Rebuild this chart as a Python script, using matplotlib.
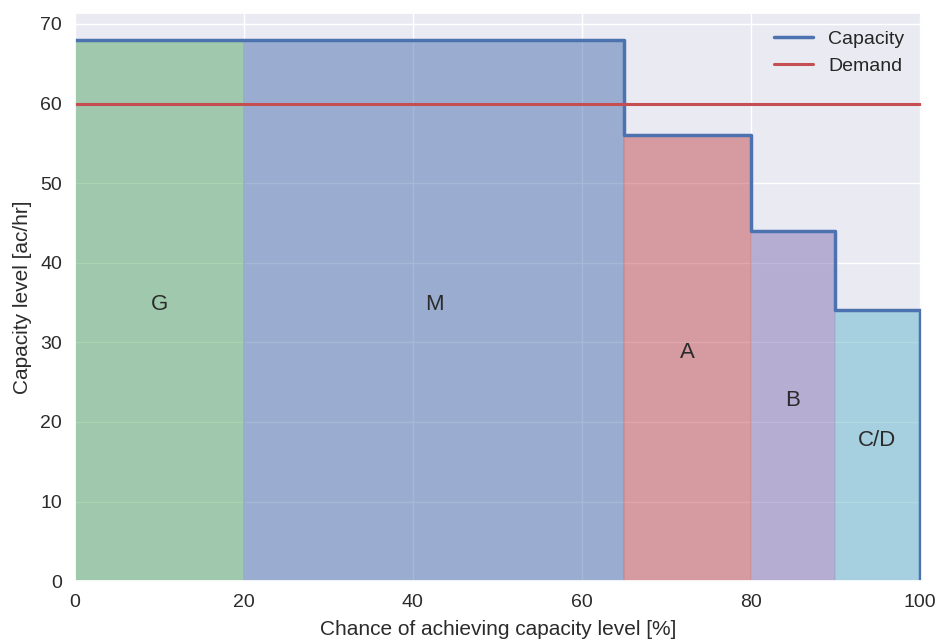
import matplotlib
matplotlib.use("Agg")
import matplotlib.pyplot as plt
import numpy as np
import seaborn as sns

sns.set_theme(style="darkgrid")
plt.rcParams['font.family'] = ['Liberation Sans', 'DejaVu Sans']

# Capacity bands: chance range [%] and capacity level [ac/hr]
band_labels = ["G", "M", "A", "B", "C/D"]
band_starts = [0, 20, 65, 80, 90]
band_ends = [20, 65, 80, 90, 100]
band_capacity = [68, 68, 56, 44, 34]
demand_level = 60

pal = sns.color_palette("deep")
band_colors = [pal[2], pal[0], pal[3], pal[4], pal[9]]

fig, ax = plt.subplots(figsize=(9.39, 6.4), dpi=100)
fig.subplots_adjust(left=0.08, right=0.982, top=0.98, bottom=0.092)

for lab, x0, x1, cap, col in zip(band_labels, band_starts, band_ends, band_capacity, band_colors):
    ax.fill_between([x0, x1], [cap, cap], 0, color=col, alpha=0.5, lw=0.3)
    ax.text((x0 + x1) / 2, cap / 2, lab, ha="center", fontsize=16, color="#2b2b2b")

# Step outline of capacity
xs = [band_starts[0]]
ys = [band_capacity[0]]
for x0, x1, cap in zip(band_starts, band_ends, band_capacity):
    xs += [x0, x1]
    ys += [cap, cap]
xs.append(band_ends[-1])
ys.append(0)
ax.plot(xs, ys, color=pal[0], lw=2.5, label="Capacity")
ax.plot([band_starts[0], band_ends[-1]], [demand_level, demand_level], color=pal[3], lw=2.2, label="Demand")

ax.set_xlim(0, 100.3)
ax.set_ylim(0, 71.4)
ax.set_xlabel("Chance of achieving capacity level [%]", fontsize=15, labelpad=6, color="#2b2b2b")
ax.set_ylabel("Capacity level [ac/hr]", fontsize=15, labelpad=6, color="#2b2b2b")
ax.tick_params(labelsize=14, labelcolor="#2b2b2b")
ax.legend(loc="upper right", frameon=False, fontsize=14)

fig.savefig("out.png", dpi=100)
